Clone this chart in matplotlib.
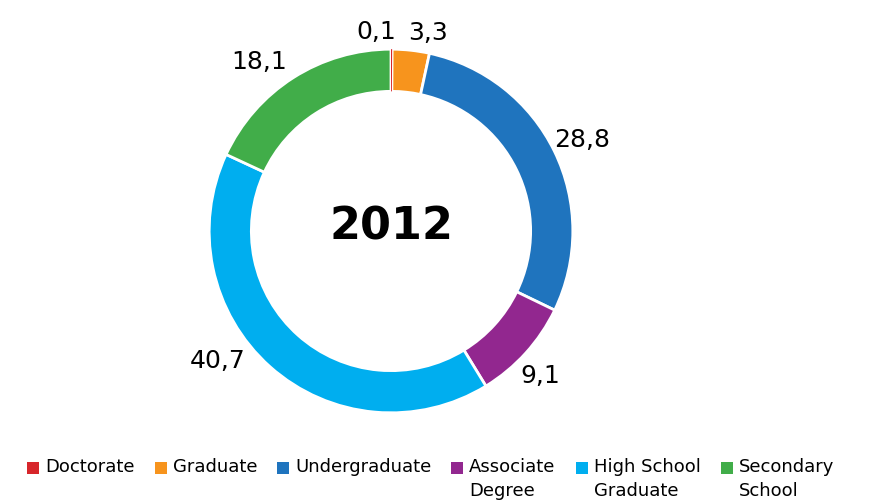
import matplotlib
matplotlib.use("Agg")
import matplotlib.pyplot as plt
from matplotlib.patches import Rectangle
import numpy as np

# data
categories = ["Doctorate", "Graduate", "Undergraduate", "Associate\nDegree",
              "High School\nGraduate", "Secondary\nSchool"]
values = [0.1, 3.3, 28.8, 9.1, 40.7, 18.1]
value_labels = ["0,1", "3,3", "28,8", "9,1", "40,7", "18,1"]
year = "2012"

colors = ["#D7262B", "#F7941D", "#1F74BE", "#92278F", "#00AEEF", "#41AD49"]

W, H = 871, 503
fig = plt.figure(figsize=(W / 100, H / 100), dpi=100)
cx, cy, half = 391, H - 231, 200
ax = fig.add_axes([(cx - half) / W, (cy - half) / H, 2 * half / W, 2 * half / H])

wedges, _ = ax.pie(values, colors=colors, startangle=90, counterclock=False,
                   radius=1.0,
                   wedgeprops=dict(width=0.232, edgecolor="white", linewidth=2))
# the tiny doctorate slice would vanish under the white edges
wedges[0].set_linewidth(0)
wedges[0].set_zorder(5)
# pie resets the limits, so set them afterwards (1 unit = ~182 px)
ax.set_xlim(-1.1, 1.1)
ax.set_ylim(-1.1, 1.1)
ax.set_aspect("equal")
ax.axis("off")

# label placement (radius, angle nudge in degrees)
nudge = [(1.097, 4.5), (1.107, -4.3), (1.167, -0.5), (1.146, -2.1),
         (1.19, -11.5), (1.18, 5.3)]
for w, txt, (r, da) in zip(wedges, value_labels, nudge):
    ang = np.deg2rad((w.theta1 + w.theta2) / 2 + da)
    ax.text(r * np.cos(ang), r * np.sin(ang), txt, ha="center", va="center",
            fontsize=18, color="black")

ax.text(0, 0.02, year, ha="center", va="center", fontsize=32, fontweight="bold")

# legend drawn by hand so the swatch sits next to the first line of text
fig.canvas.draw()
renderer = fig.canvas.get_renderer()
x = 27
y_top = H - 468
box = 12
for lab, col in zip(categories, colors):
    fig.patches.append(Rectangle((x / W, (y_top - box / 2) / H), box / W, box / H,
                                 facecolor=col, edgecolor="none",
                                 transform=fig.transFigure, figure=fig))
    t = fig.text((x + box + 6) / W, (y_top + 10) / H, lab, ha="left", va="top",
                 fontsize=13, linespacing=1.4)
    bb = t.get_window_extent(renderer)
    x = bb.x1 + 20

fig.savefig("out.png", dpi=100)
